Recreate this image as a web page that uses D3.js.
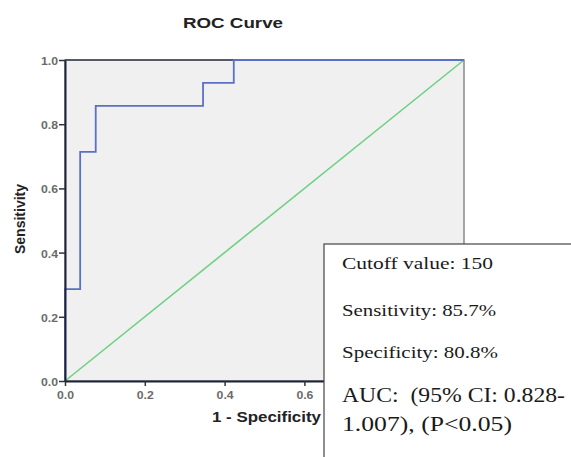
<!DOCTYPE html>
<html>
<head>
<meta charset="utf-8">
<script src="https://cdn.jsdelivr.net/npm/d3@7"></script>
<style>
body { margin: 0; background: #fff; }
svg { display: block; }
</style>
</head>
<body>
<script>
// ROC curve points
var fpr = [0, 0, 0.038, 0.038, 0.077, 0.077, 0.346, 0.346, 0.423, 0.423, 1];
var tpr = [0, 0.286, 0.286, 0.714, 0.714, 0.857, 0.857, 0.929, 0.929, 1, 1];
var refLine = [0, 1];
var ticks = [0, 0.2, 0.4, 0.6, 0.8, 1.0];
var noteLines = ["Cutoff value: 150", "Sensitivity: 85.7%", "Specificity: 80.8%"];
var aucLines = ["AUC:  (95% CI: 0.828-", "1.007), (P<0.05)"];

var W = 571, H = 457;
var pLeft = 65, pRight = 464, pTop = 60, pBottom = 381;

var svg = d3.select("body").append("svg")
  .attr("width", W)
  .attr("height", H);

var x = d3.scaleLinear().domain([0, 1]).range([pLeft, pRight]);
var y = d3.scaleLinear().domain([0, 1]).range([pBottom, pTop]);

var sans = "'Liberation Sans', Arial, sans-serif";
var serif = "'Liberation Serif', 'Times New Roman', serif";

// plot background
svg.append("rect")
  .attr("x", pLeft).attr("y", pTop)
  .attr("width", pRight - pLeft).attr("height", pBottom - pTop)
  .attr("fill", "#f0f0f0")
  .attr("stroke", "#8a8a8a").attr("stroke-width", 1.5);

// top border darker
svg.append("line")
  .attr("x1", pLeft).attr("x2", pRight).attr("y1", pTop).attr("y2", pTop)
  .attr("stroke", "#3a4050").attr("stroke-width", 1.5);

// reference diagonal
svg.append("line")
  .attr("x1", x(refLine[0])).attr("y1", y(refLine[0]))
  .attr("x2", x(refLine[1])).attr("y2", y(refLine[1]))
  .attr("stroke", "#6fd083").attr("stroke-width", 1.6);

// ROC curve
var pts = fpr.map(function(d, i) { return [d, tpr[i]]; });
svg.append("path")
  .datum(pts)
  .attr("d", d3.line().x(function(d) { return x(d[0]); }).y(function(d) { return y(d[1]); }))
  .attr("fill", "none")
  .attr("stroke", "#5a70c2")
  .attr("stroke-width", 1.8);

// axes
var xAxis = d3.axisBottom(x).tickValues(ticks).tickSize(5).tickSizeOuter(0).tickFormat(d3.format(".1f"));
var yAxis = d3.axisLeft(y).tickValues(ticks).tickSize(6).tickSizeOuter(0).tickFormat(d3.format(".1f"));

var gx = svg.append("g").attr("transform", "translate(0," + pBottom + ")").call(xAxis);
var gy = svg.append("g").attr("transform", "translate(" + pLeft + ",0)").call(yAxis);

[gx, gy].forEach(function(g) {
  g.select(".domain").attr("stroke", "#1c2238").attr("stroke-width", 2);
  g.selectAll(".tick line").attr("stroke", "#333").attr("stroke-width", 1.5);
  g.selectAll(".tick text")
    .attr("fill", "#6a6a6a")
    .style("font-family", sans)
    .style("font-size", "11px")
    .style("font-weight", "bold")
    .attr("textLength", 17)
    .attr("lengthAdjust", "spacingAndGlyphs");
});
gx.selectAll(".tick text").attr("y", 10).attr("dy", "0.71em");
gy.selectAll(".tick text").attr("x", -7).attr("dy", "0.4em");

// title
svg.append("text")
  .attr("x", 183).attr("y", 28)
  .attr("textLength", 100).attr("lengthAdjust", "spacingAndGlyphs")
  .style("font-family", sans)
  .style("font-size", "15px")
  .style("font-weight", "bold")
  .attr("fill", "#222")
  .text("ROC Curve");

// axis titles
svg.append("text")
  .attr("x", 212).attr("y", 422)
  .attr("textLength", 109).attr("lengthAdjust", "spacingAndGlyphs")
  .style("font-family", sans)
  .style("font-size", "15px")
  .style("font-weight", "bold")
  .attr("fill", "#222")
  .text("1 - Specificity");

svg.append("text")
  .attr("transform", "translate(25,219) rotate(-90)")
  .attr("text-anchor", "middle")
  .style("font-family", sans)
  .style("font-size", "14px")
  .style("font-weight", "bold")
  .attr("fill", "#222")
  .text("Sensitivity");

// annotation box
svg.append("rect")
  .attr("x", 324).attr("y", 244)
  .attr("width", 260).attr("height", 230)
  .attr("fill", "#fff")
  .attr("stroke", "#444").attr("stroke-width", 1.2);

var noteWidth = [151, 154, 156];
var noteBase = [269, 316, 358];
svg.selectAll(".note")
  .data(noteLines)
  .enter()
  .append("text")
  .attr("class", "note")
  .attr("x", 342)
  .attr("y", function(d, i) { return noteBase[i]; })
  .attr("textLength", function(d, i) { return noteWidth[i]; })
  .attr("lengthAdjust", "spacingAndGlyphs")
  .style("font-family", serif)
  .style("font-size", "17px")
  .attr("fill", "#1a1a1a")
  .text(function(d) { return d; });

var aucWidth = [223, 170];
var aucBase = [402, 431];
svg.selectAll(".auc")
  .data(aucLines)
  .enter()
  .append("text")
  .attr("class", "auc")
  .attr("x", 342)
  .attr("y", function(d, i) { return aucBase[i]; })
  .attr("textLength", function(d, i) { return aucWidth[i]; })
  .attr("lengthAdjust", "spacingAndGlyphs")
  .style("white-space", "pre")
  .style("font-family", serif)
  .style("font-size", "20px")
  .attr("fill", "#1a1a1a")
  .text(function(d) { return d; });
</script>
</body>
</html>
